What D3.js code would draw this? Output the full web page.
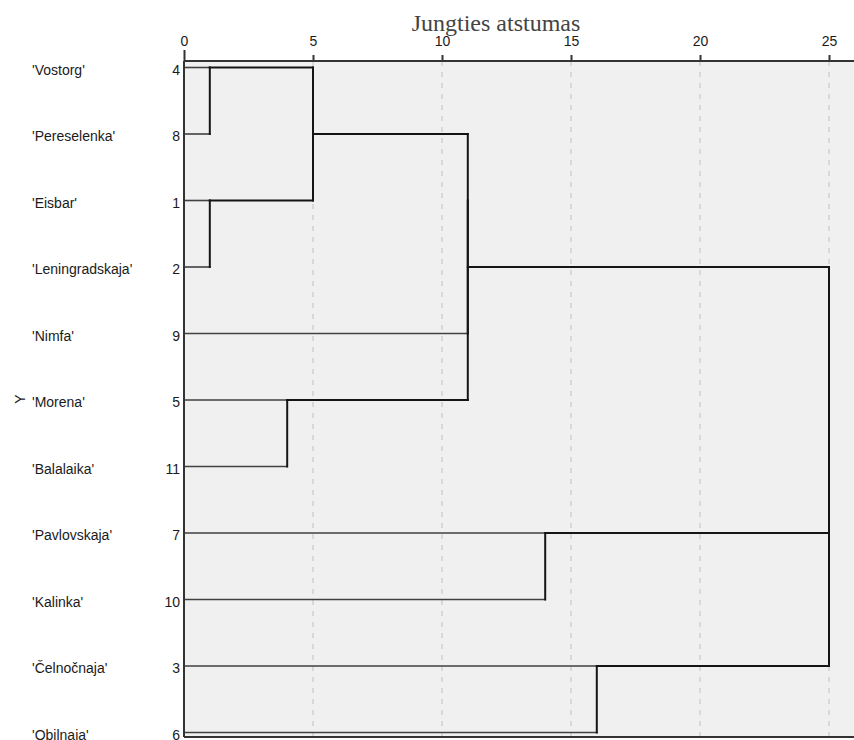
<!DOCTYPE html>
<html>
<head>
<meta charset="utf-8">
<script src="https://cdn.jsdelivr.net/npm/d3@7"></script>
<style>
  html, body { margin: 0; padding: 0; background: #fff; }
  svg { display: block; }
</style>
</head>
<body>
<svg id="chart" width="854" height="740"></svg>
<script>
// ---- data ----
const caseLabels = ["'Vostorg'", "'Pereselenka'", "'Eisbar'", "'Leningradskaja'", "'Nimfa'", "'Morena'", "'Balalaika'", "'Pavlovskaja'", "'Kalinka'", "'Čelnočnaja'", "'Obilnaia'"];
const caseNumbers = [4, 8, 1, 2, 9, 5, 11, 7, 10, 3, 6];
// agglomeration schedule (rescaled distance 0-25)
const mergeA    = [4, 1, 5, 4, 4, 4, 7, 3, 4, 4];
const mergeB    = [8, 2, 11, 1, 9, 5, 10, 6, 7, 3];
const mergeDist = [1, 1, 4, 5, 11, 11, 14, 16, 25, 25];
const tickValues = [0, 5, 10, 15, 20, 25];
const axisTitle = "Jungties atstumas";
const yTitle = "Y";

// ---- layout ----
const svg = d3.select("#chart");
const plot = { left: 184, top: 61, right: 854, bottom: 737 };

const x = d3.scaleLinear().domain([0, 25]).range([184, 829]);
const y = d3.scalePoint().domain(d3.range(caseLabels.length)).range([67.5, 732.5]);

// background
svg.append("rect")
  .attr("x", plot.left).attr("y", plot.top)
  .attr("width", plot.right - plot.left).attr("height", plot.bottom - plot.top)
  .attr("fill", "#f0f0f0");

// dashed grid
svg.append("g").selectAll("line")
  .data(tickValues.filter(d => d > 0))
  .join("line")
  .attr("x1", d => x(d)).attr("x2", d => x(d))
  .attr("y1", plot.top).attr("y2", plot.bottom)
  .attr("stroke", "#c9c9c9").attr("stroke-width", 1.2)
  .attr("stroke-dasharray", "5,6");

// dendrogram
const nodeOf = new Map();
caseNumbers.forEach((c, i) => nodeOf.set(c, { row: i, height: 0, members: [c], leaf: true }));
const gLines = svg.append("g").attr("fill", "none").attr("stroke-linecap", "square");
function hline(node, d) {
  if (x(d) - x(node.height) < 0.5) return;
  gLines.append("line")
    .attr("x1", x(node.height)).attr("x2", x(d))
    .attr("y1", y(node.row)).attr("y2", y(node.row))
    .attr("stroke", node.leaf ? "#404040" : "#151515")
    .attr("stroke-width", node.leaf ? 1.6 : 2);
}
mergeA.forEach((a, k) => {
  const na = nodeOf.get(a), nb = nodeOf.get(mergeB[k]), d = mergeDist[k];
  hline(na, d); hline(nb, d);
  gLines.append("line")
    .attr("x1", x(d)).attr("x2", x(d))
    .attr("y1", y(na.row)).attr("y2", y(nb.row))
    .attr("stroke", "#151515").attr("stroke-width", 2);
  const nn = { row: Math.floor((na.row + nb.row) / 2), height: d, members: na.members.concat(nb.members), leaf: false };
  nn.members.forEach(m => nodeOf.set(m, nn));
});

// frame lines
svg.append("line").attr("x1", plot.left).attr("x2", plot.right).attr("y1", plot.top).attr("y2", plot.top)
  .attr("stroke", "#333").attr("stroke-width", 2);
svg.append("line").attr("x1", plot.left).attr("x2", plot.left).attr("y1", plot.top).attr("y2", plot.bottom)
  .attr("stroke", "#333").attr("stroke-width", 2);
svg.append("line").attr("x1", plot.left).attr("x2", plot.right).attr("y1", plot.bottom).attr("y2", plot.bottom)
  .attr("stroke", "#333").attr("stroke-width", 2);

// top axis
const axG = svg.append("g").attr("transform", `translate(0,${plot.top})`)
  .call(d3.axisTop(x).tickValues(tickValues).tickSize(6).tickPadding(9).tickFormat(d3.format("d")));
axG.select(".domain").remove();
axG.selectAll(".tick line").attr("stroke", "#333").attr("stroke-width", 2);
axG.selectAll(".tick text").attr("fill", "#1a1a1a")
  .style("font-family", "'Liberation Sans', Arial, sans-serif").style("font-size", "14px");
axG.selectAll(".tick").filter(d => d === 0).select("line").attr("y2", -11);

// case numbers
svg.append("g").selectAll("text")
  .data(caseNumbers)
  .join("text")
  .attr("x", 180).attr("y", (d, i) => y(i) + 7)
  .attr("text-anchor", "end")
  .attr("fill", "#1a1a1a")
  .style("font-family", "'Liberation Sans', Arial, sans-serif").style("font-size", "14px")
  .text(d => d);

// case labels
svg.append("g").selectAll("text")
  .data(caseLabels)
  .join("text")
  .attr("x", 32).attr("y", (d, i) => y(i) + 7)
  .attr("fill", "#1a1a1a")
  .style("font-family", "'Liberation Sans', Arial, sans-serif").style("font-size", "14px")
  .text(d => d);

// titles
svg.append("text")
  .attr("x", 496).attr("y", 31)
  .attr("text-anchor", "middle")
  .attr("fill", "#444")
  .style("font-family", "'Liberation Serif', 'Times New Roman', serif").style("font-size", "24px")
  .text(axisTitle);

svg.append("text")
  .attr("transform", `translate(25,${y(5) - 1}) rotate(-90)`)
  .attr("text-anchor", "middle")
  .attr("fill", "#1a1a1a")
  .style("font-family", "'Liberation Sans', Arial, sans-serif").style("font-size", "14px")
  .text(yTitle);
</script>
</body>
</html>
